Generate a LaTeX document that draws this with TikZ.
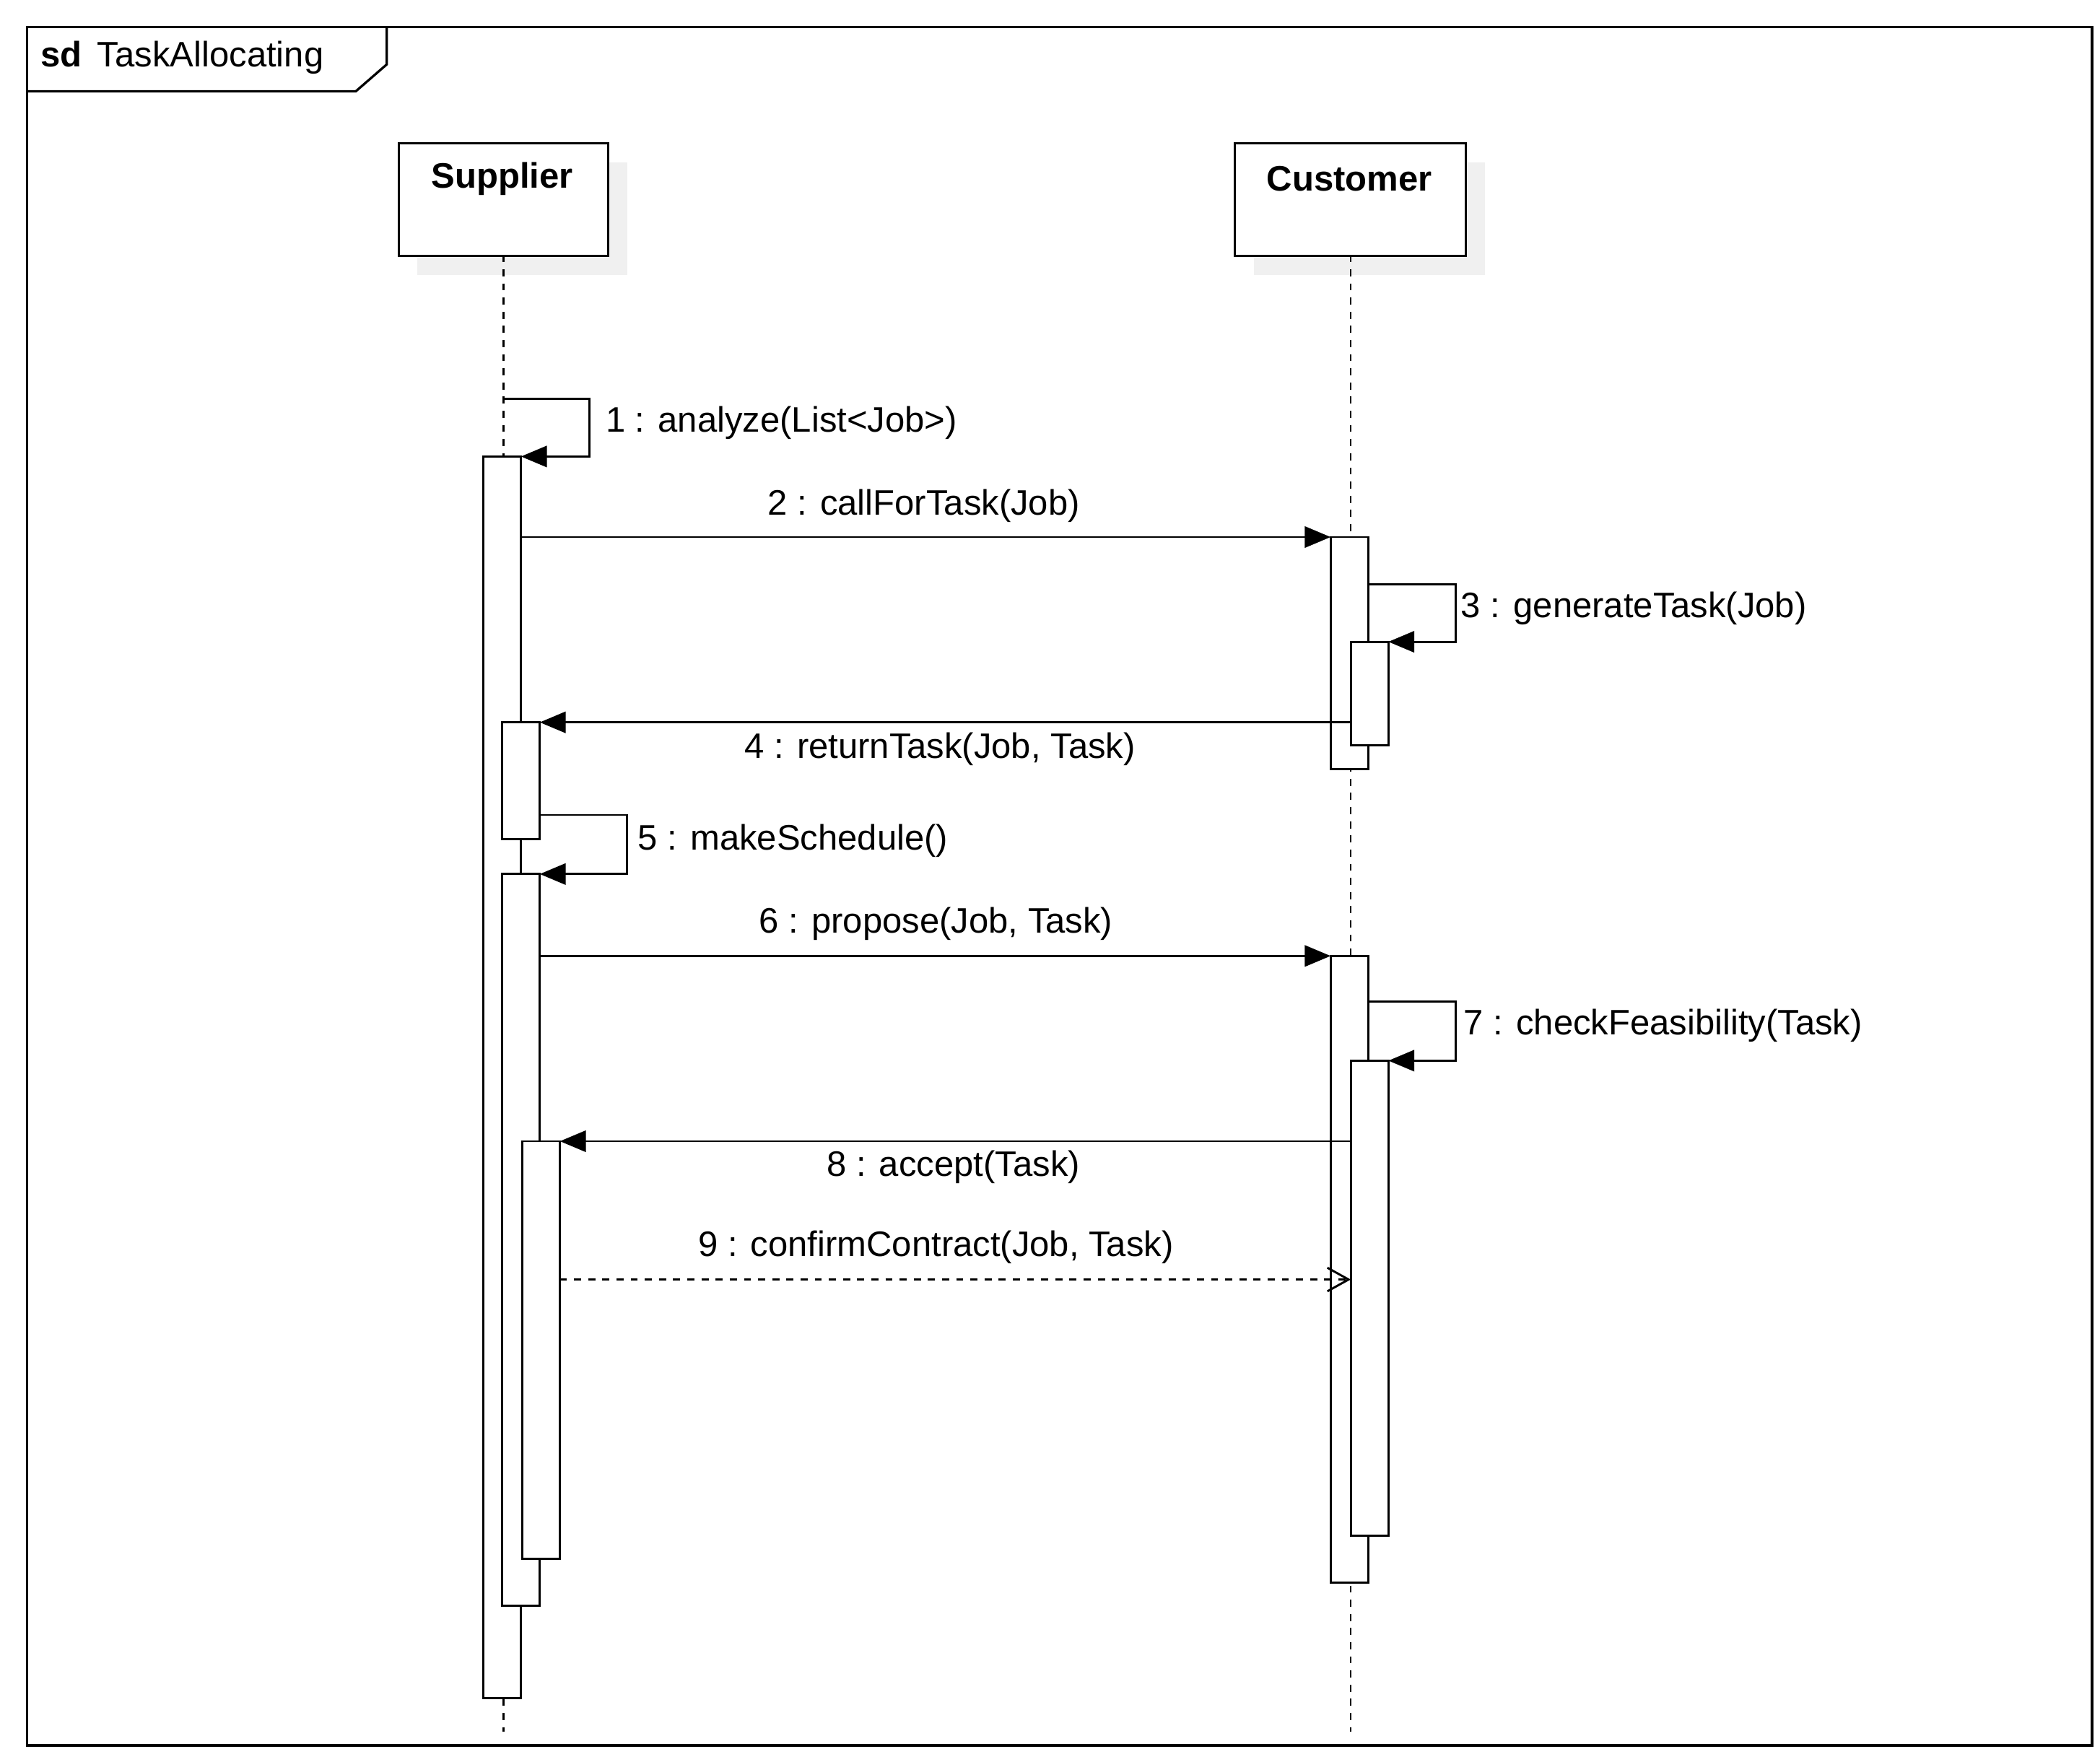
\documentclass[tikz,border=0pt]{standalone}
\usepackage{fontspec}
\setmainfont{Liberation Sans}
\usetikzlibrary{arrows.meta}
\begin{document}
\begin{tikzpicture}[x=0.02cm,y=-0.02cm,
  lbl/.style={font=\fontsize{15}{17}\selectfont,inner sep=1pt},
  act/.style={draw,fill=white,line width=0.9pt},
  msg/.style={line width=0.9pt,-{Triangle[length=11pt,width=9pt]}},
  ret/.style={line width=0.9pt,dashed,-{Straight Barb[length=9pt,width=10pt]}},
  life/.style={dashed,line width=0.8pt},
  head/.style={draw,line width=0.9pt,fill=white,minimum width=#1,minimum height=1.68cm,anchor=north west,inner sep=0pt}]
\useasboundingbox (0,0) rectangle (1564,1312);
\fill[white] (0,0) rectangle (1564,1312);
\draw[line width=1pt] (20,20) rectangle (1558,1300);
\draw[line width=1pt] (20,68) -- (265,68) -- (288,48) -- (288,20);
\node[lbl,anchor=west] (title) at (28,43) {\textbf{sd}\, TaskAllocating};
% heads with shadow
\fill[black!6] (311,121) rectangle (467,205);
\fill[black!6] (934,121) rectangle (1106,205);
\node[head=3.12cm] (sup) at (296,106) {};
\node[lbl,font=\bfseries\fontsize{15}{17}\selectfont] (supL) at (374,133) {Supplier};
\node[head=3.44cm] (cus) at (919,106) {};
\node[lbl,font=\bfseries\fontsize{15}{17}\selectfont] (cusL) at (1005,133) {Customer};
\coordinate (supEnd) at (375,1290);
\coordinate (cusEnd) at (1006,1290);
\draw[life] (375,190) -- (supEnd);
\draw[life] (1006,190) -- (cusEnd);
% activations
\draw[act] (360,340) rectangle (388,1265);
\draw[act] (374,538) rectangle (402,625);
\draw[act] (374,651) rectangle (402,1196);
\draw[act] (389,850) rectangle (417,1161);
\draw[act] (991,400) rectangle (1019,573);
\draw[act] (1006,478) rectangle (1034,555);
\draw[act] (991,712) rectangle (1019,1179);
\draw[act] (1006,790) rectangle (1034,1144);
% messages
\draw[msg] (375,297) -- (439,297) -- (439,340) -- (388,340);
\node[lbl,anchor=west] at (449,315) {1 : analyze(List<Job>)};
\draw[msg] (388,400) -- (991,400);
\node[lbl] at (688,377) {2 : callForTask(Job)};
\draw[msg] (1019,435) -- (1084,435) -- (1084,478) -- (1034,478);
\node[lbl,anchor=west] at (1086,453) {3 : generateTask(Job)};
\draw[msg] (1006,538) -- (402,538);
\node[lbl] at (700,558) {4 : returnTask(Job, Task)};
\draw[msg] (402,607) -- (467,607) -- (467,651) -- (402,651);
\node[lbl,anchor=west] at (473,626) {5 : makeSchedule()};
\draw[msg] (402,712) -- (991,712);
\node[lbl] at (697,688) {6 : propose(Job, Task)};
\draw[msg] (1019,746) -- (1084,746) -- (1084,790) -- (1034,790);
\node[lbl,anchor=west] at (1088,764) {7 : checkFeasibility(Task)};
\draw[msg] (1006,850) -- (417,850);
\node[lbl] at (710,869) {8 : accept(Task)};
\draw[ret] (417,953) -- (1006,953);
\node[lbl] at (697,929) {9 : confirmContract(Job, Task)};
\end{tikzpicture}
\end{document}
